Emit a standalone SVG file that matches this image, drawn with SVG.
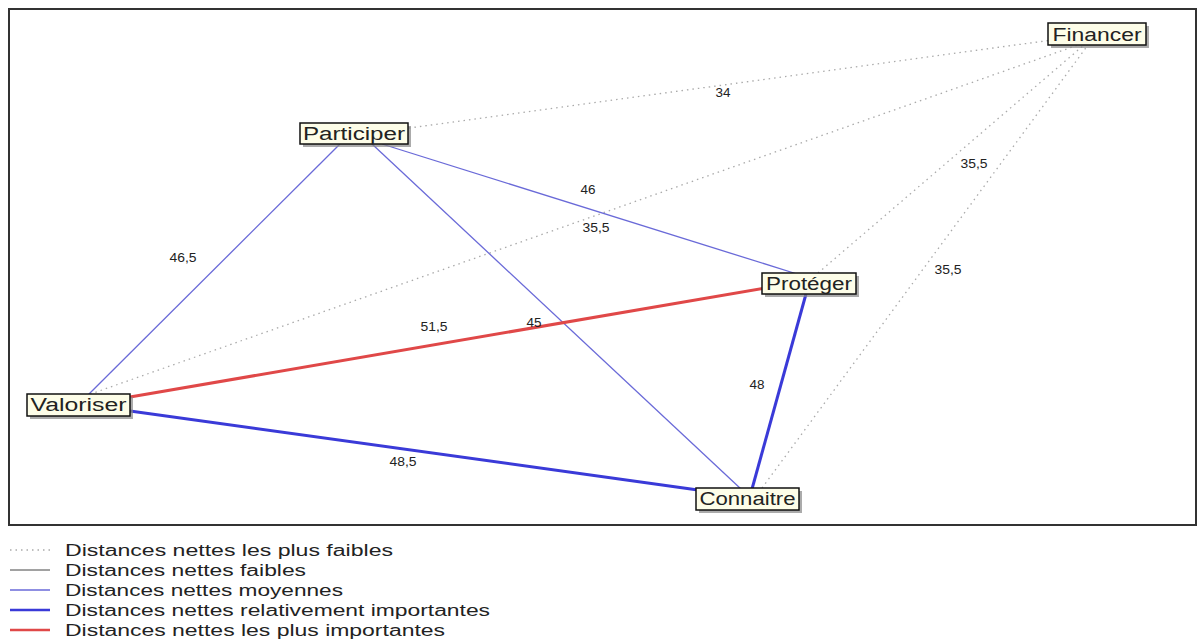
<svg xmlns="http://www.w3.org/2000/svg" width="1202" height="642" viewBox="0 0 1202 642">
<style>
.frame{fill:#fff;stroke:#333;stroke-width:2}
.dot{stroke:#aaa;stroke-width:1.3;stroke-dasharray:1.5 4;fill:none}
.blk{stroke:#444;stroke-width:1;fill:none}
.mid{stroke:#6a6ad8;stroke-width:1.3;fill:none}
.big{stroke:#3a3ad8;stroke-width:3;fill:none}
.red{stroke:#e04848;stroke-width:3;fill:none}
.lbl{font-family:"Liberation Sans",Arial,sans-serif;font-size:12px;fill:#222;text-anchor:middle}
.box{fill:#fdfde8;stroke:#111;stroke-width:1.5}
.shd{fill:#888;opacity:0.7}
.nt{font-family:"Liberation Sans",Arial,sans-serif;font-size:18px;fill:#222;text-anchor:middle}
.lg{font-family:"Liberation Sans",Arial,sans-serif;font-size:16px;fill:#222}
</style>
<rect width="1202" height="642" fill="#fff"/>
<rect class="frame" x="9" y="9" width="1187" height="516"/>
<g id="connectors">
<line class="dot" x1="409" y1="128" x2="1052" y2="40"/>
<line class="dot" x1="85" y1="396" x2="1078" y2="45"/>
<line class="dot" x1="818" y1="273" x2="1084" y2="45"/>
<line class="dot" x1="762" y1="488" x2="1088" y2="45"/>
<line class="mid" x1="340" y1="144" x2="88" y2="395"/>
<line class="mid" x1="382" y1="144" x2="797" y2="274"/>
<line class="mid" x1="372" y1="144" x2="741" y2="489"/>
<line class="red" x1="130" y1="397" x2="765" y2="288"/>
<line class="big" x1="130" y1="411" x2="698" y2="490"/>
<line class="big" x1="806" y1="294" x2="752" y2="489"/>
<text class="lbl" x="723" y="97" textLength="15" lengthAdjust="spacingAndGlyphs">34</text>
<text class="lbl" x="596" y="232" textLength="27" lengthAdjust="spacingAndGlyphs">35,5</text>
<text class="lbl" x="974" y="168" textLength="27" lengthAdjust="spacingAndGlyphs">35,5</text>
<text class="lbl" x="948" y="274" textLength="27" lengthAdjust="spacingAndGlyphs">35,5</text>
<text class="lbl" x="183" y="262" textLength="27" lengthAdjust="spacingAndGlyphs">46,5</text>
<text class="lbl" x="588" y="194" textLength="15" lengthAdjust="spacingAndGlyphs">46</text>
<text class="lbl" x="534" y="327" textLength="15" lengthAdjust="spacingAndGlyphs">45</text>
<text class="lbl" x="434" y="331" textLength="27" lengthAdjust="spacingAndGlyphs">51,5</text>
<text class="lbl" x="403" y="466" textLength="27" lengthAdjust="spacingAndGlyphs">48,5</text>
<text class="lbl" x="757" y="389" textLength="15" lengthAdjust="spacingAndGlyphs">48</text>
</g>
<g id="node-financer">
<rect class="shd" x="1051" y="26" width="98" height="22"/>
<rect class="box" x="1048" y="23" width="98" height="22"/>
<text class="nt" x="1097" y="40.5" textLength="89" lengthAdjust="spacingAndGlyphs">Financer</text>
</g>
<g id="node-participer">
<rect class="shd" x="303" y="126" width="108" height="21"/>
<rect class="box" x="300" y="123" width="108" height="21"/>
<text class="nt" x="354" y="140" textLength="102" lengthAdjust="spacingAndGlyphs">Participer</text>
</g>
<g id="node-proteger">
<rect class="shd" x="765" y="276" width="94" height="21"/>
<rect class="box" x="762" y="273" width="94" height="21"/>
<text class="nt" x="809" y="290" textLength="86" lengthAdjust="spacingAndGlyphs">Protéger</text>
</g>
<g id="node-valoriser">
<rect class="shd" x="30" y="397" width="103" height="22"/>
<rect class="box" x="27" y="394" width="103" height="22"/>
<text class="nt" x="78.5" y="411" textLength="96" lengthAdjust="spacingAndGlyphs">Valoriser</text>
</g>
<g id="node-connaitre">
<rect class="shd" x="699" y="491" width="103" height="22"/>
<rect class="box" x="696" y="488" width="103" height="22"/>
<text class="nt" x="747.5" y="505" textLength="96" lengthAdjust="spacingAndGlyphs">Connaitre</text>
</g>
<g id="legend">
<line class="dot" x1="10" y1="550" x2="50" y2="550"/>
<line class="blk" x1="10" y1="570" x2="50" y2="570"/>
<line class="mid" x1="10" y1="590" x2="50" y2="590"/>
<line class="big" x1="10" y1="610" x2="50" y2="610" style="stroke-width:2.5"/>
<line class="red" x1="10" y1="630" x2="50" y2="630" style="stroke-width:2.5"/>
<text class="lg" x="65" y="556" textLength="328" lengthAdjust="spacingAndGlyphs">Distances nettes les plus faibles</text>
<text class="lg" x="65" y="576" textLength="241" lengthAdjust="spacingAndGlyphs">Distances nettes faibles</text>
<text class="lg" x="65" y="596" textLength="278" lengthAdjust="spacingAndGlyphs">Distances nettes moyennes</text>
<text class="lg" x="65" y="616" textLength="425" lengthAdjust="spacingAndGlyphs">Distances nettes relativement importantes</text>
<text class="lg" x="65" y="636" textLength="380" lengthAdjust="spacingAndGlyphs">Distances nettes les plus importantes</text>
</g>
</svg>
